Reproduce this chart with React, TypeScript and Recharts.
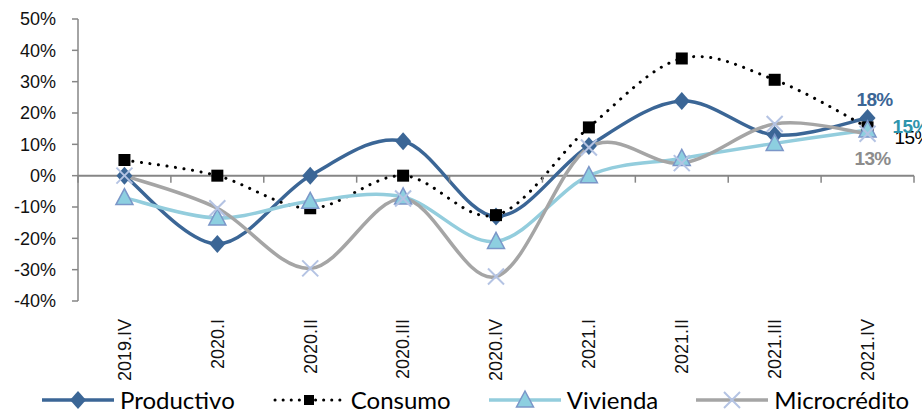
import React from 'react';
import { LineChart, Line, XAxis, YAxis, ReferenceLine, Legend } from 'recharts';

const periods = ['2019.IV', '2020.I', '2020.II', '2020.III', '2020.IV', '2021.I', '2021.II', '2021.III', '2021.IV'];
const productivo = [0, -21.8, 0, 11, -13, 9.5, 23.8, 13, 18.4];
const consumo = [5, 0, -10.4, 0, -12.6, 15.4, 37.4, 30.6, 15.4];
const vivienda = [-7, -13.5, -8.2, -6.8, -21, 0, 5.5, 10.3, 14.6];
const microcredito = [0, -10.4, -29.6, -7.3, -32.2, 9, 4, 16.5, 13.4];
const yTicks = [-40, -30, -20, -10, 0, 10, 20, 30, 40, 50];

const data = periods.map((p, i) => ({
  period: p,
  productivo: productivo[i],
  consumo: consumo[i],
  vivienda: vivienda[i],
  microcredito: microcredito[i],
}));

const W = 922;
const H = 412;
const M = { top: 19, right: 8, bottom: 0, left: 0 };
const Y_W = 78;
const X_H = 80;
const LEG_H = 31;
const PLOT_H = H - M.top - X_H - LEG_H;
const PLOT_W = W - Y_W - M.right;
const BAND = PLOT_W / periods.length;
const ZERO_Y = M.top + (PLOT_H * 50) / 90;

const C_PROD = '#3b6696';
const C_VIV = '#93cddd';
const C_MIC = '#a5a5a5';
const C_AXIS = '#868686';
const FONT = "'Liberation Sans', Arial, sans-serif";

// Excel-like smoothed line (catmull-rom style bezier)
function excelCurve(context: any) {
  let pts: number[][] = [];
  return {
    areaStart() {},
    areaEnd() {},
    lineStart() {
      pts = [];
    },
    point(x: number, y: number) {
      pts.push([+x, +y]);
    },
    lineEnd() {
      const n = pts.length;
      if (!n) return;
      context.moveTo(pts[0][0], pts[0][1]);
      for (let i = 0; i < n - 1; i++) {
        const p0 = pts[i - 1] || pts[i];
        const p1 = pts[i];
        const p2 = pts[i + 1];
        const p3 = pts[i + 2] || p2;
        context.bezierCurveTo(
          p1[0] + (p2[0] - p0[0]) / 6,
          p1[1] + (p2[1] - p0[1]) / 6,
          p2[0] - (p3[0] - p1[0]) / 6,
          p2[1] - (p3[1] - p1[1]) / 6,
          p2[0],
          p2[1]
        );
      }
    },
  };
}

const Diamond = (props: any) => {
  const { cx, cy, key } = props;
  if (cx == null || cy == null) return <g key={key} />;
  return (
    <polygon
      key={key}
      points={`${cx},${cy - 9} ${cx + 8},${cy} ${cx},${cy + 9} ${cx - 8},${cy}`}
      fill={C_PROD}
    />
  );
};

const Square = (props: any) => {
  const { cx, cy, key } = props;
  if (cx == null || cy == null) return <g key={key} />;
  return <rect key={key} x={cx - 6} y={cy - 6} width={12} height={12} fill="#000" />;
};

const Triangle = (props: any) => {
  const { cx, cy, key } = props;
  if (cx == null || cy == null) return <g key={key} />;
  return (
    <polygon
      key={key}
      points={`${cx},${cy - 9} ${cx + 8.5},${cy + 7} ${cx - 8.5},${cy + 7}`}
      fill="#8dcfe0"
      stroke="#7b96c8"
      strokeWidth={1.5}
    />
  );
};

const Cross = (props: any) => {
  const { cx, cy, key } = props;
  if (cx == null || cy == null) return <g key={key} />;
  return (
    <g key={key} stroke="#b4c3e3" strokeWidth={2}>
      <line x1={cx - 8} y1={cy - 8} x2={cx + 8} y2={cy + 8} />
      <line x1={cx - 8} y1={cy + 8} x2={cx + 8} y2={cy - 8} />
    </g>
  );
};

const lastLabel =
  (color: string, dx: number, dy: number, anchor: string, bold: boolean) =>
  (props: any) => {
    const { x, y, index, value } = props;
    if (index !== periods.length - 1) return null;
    return (
      <text
        x={x + dx}
        y={y + dy}
        dy="0.35em"
        textAnchor={anchor}
        fill={color}
        fontSize={19}
        letterSpacing={-0.6}
        fontWeight={bold ? 'bold' : 'normal'}
        fontFamily="'Liberation Sans Narrow', 'Liberation Sans', Arial, sans-serif"
      >
        {`${Math.round(value)}%`}
      </text>
    );
  };

const XTick = (props: any) => {
  const { x, y, payload, index } = props;
  return (
    <g>
      <line x1={x - BAND / 2} y1={ZERO_Y} x2={x - BAND / 2} y2={ZERO_Y + 7} stroke={C_AXIS} strokeWidth={1.5} />
      {index === periods.length - 1 && (
        <line x1={x + BAND / 2} y1={ZERO_Y} x2={x + BAND / 2} y2={ZERO_Y + 7} stroke={C_AXIS} strokeWidth={1.5} />
      )}
      <text
        x={x}
        y={y}
        dy="0.35em"
        textAnchor="end"
        transform={`rotate(-90, ${x}, ${y})`}
        fontSize={18}
        fontFamily={FONT}
        fill="#111"
      >
        {payload.value}
      </text>
    </g>
  );
};

const legendItems = [
  { name: 'Productivo', kind: 'diamond' },
  { name: 'Consumo', kind: 'square' },
  { name: 'Vivienda', kind: 'triangle' },
  { name: 'Microcrédito', kind: 'cross' },
];

const LegendIcon = ({ kind }: { kind: string }) => {
  const cx = 36;
  const cy = 10;
  let line: any;
  let marker: any;
  if (kind === 'diamond') {
    line = <line x1={0} y1={cy} x2={72} y2={cy} stroke={C_PROD} strokeWidth={3.5} />;
    marker = <Diamond cx={cx} cy={cy} />;
  } else if (kind === 'square') {
    line = (
      <line x1={2} y1={cy} x2={72} y2={cy} stroke="#000" strokeWidth={3} strokeDasharray="0.1 8" strokeLinecap="round" />
    );
    marker = <rect x={cx - 5} y={cy - 5} width={10} height={10} fill="#000" />;
  } else if (kind === 'triangle') {
    line = <line x1={0} y1={cy} x2={72} y2={cy} stroke={C_VIV} strokeWidth={3.5} />;
    marker = <Triangle cx={cx} cy={cy} />;
  } else {
    line = <line x1={0} y1={cy} x2={72} y2={cy} stroke={C_MIC} strokeWidth={3.5} />;
    marker = <Cross cx={cx} cy={cy} />;
  }
  return (
    <svg width={72} height={20} style={{ overflow: 'visible' }}>
      {line}
      {marker}
    </svg>
  );
};

const renderLegend = () => (
  <div
    style={{
      height: LEG_H,
      boxSizing: 'border-box',
      paddingTop: 6,
      paddingLeft: 42,
      display: 'flex',
      alignItems: 'center',
      gap: 38,
      fontFamily: 'Lato, sans-serif',
      fontSize: 24,
      color: '#000',
      whiteSpace: 'nowrap',
    }}
  >
    {legendItems.map((it) => (
      <div key={it.name} style={{ display: 'flex', alignItems: 'center', gap: 6 }}>
        <LegendIcon kind={it.kind} />
        <span style={{ lineHeight: '23px' }}>{it.name}</span>
      </div>
    ))}
  </div>
);

export default function App() {
  return (
    <div style={{ position: 'absolute', left: 0, top: 0, background: '#fff' }}>
      <LineChart width={W} height={H} data={data} margin={M}>
        <XAxis
          dataKey="period"
          height={X_H}
          interval={0}
          padding={{ left: BAND / 2, right: BAND / 2 }}
          axisLine={false}
          tickLine={false}
          tickSize={0}
          tickMargin={18}
          tick={<XTick />}
        />
        <YAxis
          width={Y_W}
          domain={[-40, 50]}
          ticks={yTicks}
          interval={0}
          tickFormatter={(v: number) => `${v}%`}
          tickSize={6}
          tickMargin={16}
          axisLine={{ stroke: C_AXIS, strokeWidth: 1.5 }}
          tickLine={{ stroke: C_AXIS, strokeWidth: 1.5 }}
          tick={{ fontSize: 18, fontFamily: FONT, fill: '#111' }}
        />
        <ReferenceLine y={0} stroke={C_AXIS} strokeWidth={2} />
        <Legend verticalAlign="bottom" height={LEG_H} content={renderLegend} />
        <Line
          dataKey="productivo"
          name="Productivo"
          type={excelCurve as any}
          stroke={C_PROD}
          strokeWidth={3.5}
          dot={<Diamond />}
          activeDot={false}
          isAnimationActive={false}
          label={lastLabel(C_PROD, 7, -19, 'middle', true)}
        />
        <Line
          dataKey="consumo"
          name="Consumo"
          type={excelCurve as any}
          stroke="#000"
          strokeWidth={3}
          strokeDasharray="0.1 8.5"
          strokeLinecap="round"
          dot={<Square />}
          activeDot={false}
          isAnimationActive={false}
          label={lastLabel('#000', 27, 10, 'start', false)}
        />
        <Line
          dataKey="vivienda"
          name="Vivienda"
          type={excelCurve as any}
          stroke={C_VIV}
          strokeWidth={3.5}
          dot={<Triangle />}
          activeDot={false}
          isAnimationActive={false}
          label={lastLabel('#2e95ad', 25, -4, 'start', true)}
        />
        <Line
          dataKey="microcredito"
          name="Microcrédito"
          type={excelCurve as any}
          stroke={C_MIC}
          strokeWidth={3.5}
          dot={<Cross />}
          activeDot={false}
          isAnimationActive={false}
          label={lastLabel('#8c8c8c', 5, 25, 'middle', true)}
        />
      </LineChart>
    </div>
  );
}
